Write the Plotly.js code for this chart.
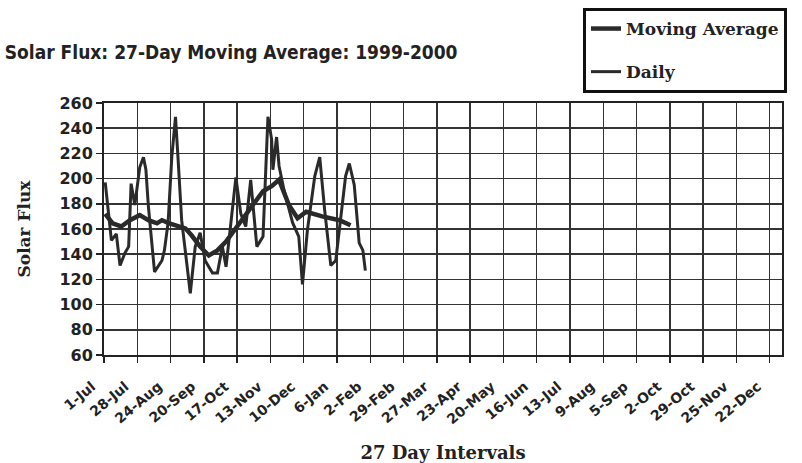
<!DOCTYPE html>
<html>
<head>
<meta charset="utf-8">
<script src="https://cdn.plot.ly/plotly-3.0.1.min.js"></script>
<style>html,body{margin:0;padding:0;background:#fff;}#chart{width:802px;height:463px;}</style>
</head>
<body>
<div id="chart"></div>
<script>
const dailyDates = ['1999-07-02','1999-07-04','1999-07-07','1999-07-11','1999-07-14','1999-07-18','1999-07-21','1999-07-23','1999-07-26','1999-07-30','1999-08-02','1999-08-04','1999-08-06','1999-08-11','1999-08-17','1999-08-19','1999-08-22','1999-08-25','1999-08-28','1999-08-30','1999-09-02','1999-09-09','1999-09-13','1999-09-17','1999-09-21','1999-09-27','1999-10-01','1999-10-05','1999-10-08','1999-10-16','1999-10-20','1999-10-24','1999-10-28','1999-11-02','1999-11-07','1999-11-11','1999-11-14','1999-11-15','1999-11-18','1999-11-20','1999-11-24','1999-12-01','1999-12-06','1999-12-09','1999-12-13','1999-12-19','1999-12-23','1999-12-27','2000-01-01','2000-01-05','2000-01-13','2000-01-16','2000-01-20','2000-01-24','2000-01-27','2000-01-29'];
const dailyValues = [197,180,151,156,131,141,146,196,179,209,217,207,178,126,135,143,165,217,249,217,167,109,146,157,135,125,125,146,130,201,172,162,199,146,154,249,231,207,233,210,191,165,154,116,159,202,217,175,131,135,202,212,195,149,143,127];

const maDates = ['1999-07-02','1999-07-08','1999-07-15','1999-07-22','1999-07-30','1999-08-06','1999-08-13','1999-08-17','1999-08-23','1999-08-31','1999-09-05','1999-09-10','1999-09-17','1999-09-24','1999-10-01','1999-10-08','1999-10-14','1999-10-22','1999-10-30','1999-11-07','1999-11-14','1999-11-20','1999-11-28','1999-12-05','1999-12-12','1999-12-25','2000-01-08','2000-01-17'];
const maValues = [172,164.5,162,167,171,167,164.5,167,164.5,162,160.5,155,146,139,143,150,158,168.5,179,190,194,199,179,168.5,173.7,170,167,163];

const tickDates = ['1999-07-01','1999-07-28','1999-08-24','1999-09-20','1999-10-17','1999-11-13','1999-12-10','2000-01-06','2000-02-02','2000-02-29','2000-03-27','2000-04-23','2000-05-20','2000-06-16','2000-07-13','2000-08-09','2000-09-05','2000-10-02','2000-10-29','2000-11-25','2000-12-22'];
const tickLabels = ['1-Jul','28-Jul','24-Aug','20-Sep','17-Oct','13-Nov','10-Dec','6-Jan','2-Feb','29-Feb','27-Mar','23-Apr','20-May','16-Jun','13-Jul','9-Aug','5-Sep','2-Oct','29-Oct','25-Nov','22-Dec'];
const yTicks = [60,80,100,120,140,160,180,200,220,240,260];

const ink = '#2a2a2a';
const serif = 'DejaVu Serif, serif';
const sans = 'DejaVu Sans, sans-serif';

const traces = [
  {x: maDates, y: maValues, type: 'scatter', mode: 'lines', name: 'Moving Average',
   legendgroup: 'a', line: {color: ink, width: 4.5}},
  {x: dailyDates, y: dailyValues, type: 'scatter', mode: 'lines', name: 'Daily',
   legendgroup: 'b', line: {color: ink, width: 3}}
];

const layout = {
  width: 802, height: 463,
  margin: {l: 104, r: 20, t: 103, b: 108, autoexpand: false},
  paper_bgcolor: '#ffffff', plot_bgcolor: '#ffffff',
  title: {text: 'Solar Flux: 27-Day Moving Average: 1999-2000',
    font: {family: 'DejaVu Sans Condensed, Liberation Sans Narrow, sans-serif', size: 19, weight: 'bold', color: '#222'},
    xref: 'container', yref: 'container', x: 0.006, xanchor: 'left', y: 0.888, yanchor: 'middle'},
  showlegend: true,
  legend: {x: 0.7065, y: 1.377, xanchor: 'left', yanchor: 'top',
    bgcolor: '#ffffff', bordercolor: '#111', borderwidth: 3,
    font: {family: serif, size: 17, weight: 'bold', color: '#222'},
    tracegroupgap: 18, traceorder: 'grouped'},
  xaxis: {type: 'date', range: ['1999-07-01', '2001-01-01'],
    tickmode: 'array', tickvals: tickDates, ticktext: tickLabels, tickangle: -40,
    tickfont: {family: sans, size: 14, weight: 'bold', color: '#222'},
    ticklabelshift: -12, ticklabelstandoff: 10,
    ticks: 'outside', ticklen: 6, tickwidth: 1.5, tickcolor: '#222',
    showgrid: true, gridcolor: '#333', gridwidth: 1.5,
    showline: true, linecolor: '#222', linewidth: 2, mirror: true, zeroline: false,
    title: {text: '27 Day Intervals', font: {family: serif, size: 18, weight: 'bold', color: '#222'}, standoff: 22}},
  yaxis: {range: [60, 260], tickmode: 'array', tickvals: yTicks,
    tickfont: {family: sans, size: 16, weight: 'bold', color: '#222'},
    ticks: 'outside', ticklen: 6, tickwidth: 1.5, tickcolor: '#222',
    showgrid: true, gridcolor: '#333', gridwidth: 1.5,
    showline: true, linecolor: '#222', linewidth: 2, mirror: true, zeroline: false,
    title: {text: 'Solar Flux', font: {family: serif, size: 17, weight: 'bold', color: '#222'}, standoff: 24}}
};

Plotly.newPlot('chart', traces, layout, {displayModeBar: false, staticPlot: true});
</script>
</body>
</html>
